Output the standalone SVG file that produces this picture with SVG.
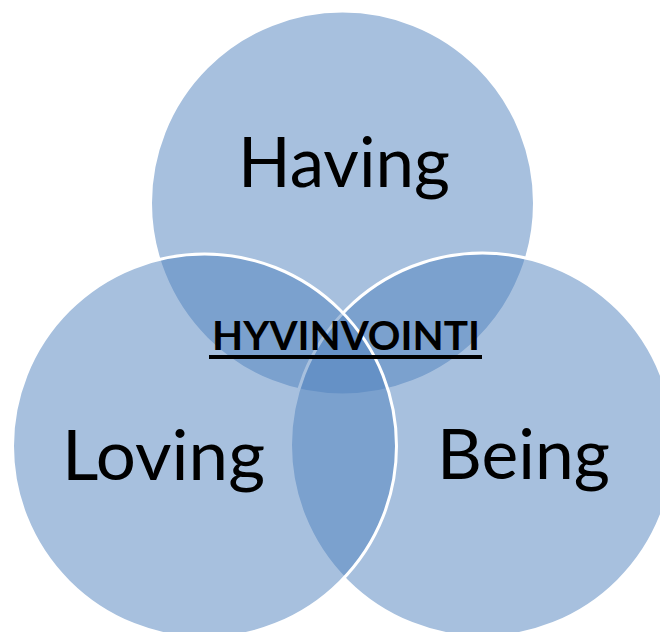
<svg xmlns="http://www.w3.org/2000/svg" width="660" height="632" viewBox="0 0 660 632">
<style>
.c{fill:#4F81BD;fill-opacity:0.5;stroke:#ffffff;stroke-width:3}
.big{font-family:Lato,"Liberation Sans",sans-serif;font-size:70px;fill:#000}
.mid{font-family:Lato,"Liberation Sans",sans-serif;font-size:40px;font-weight:bold;fill:#000}
</style>
<rect width="660" height="632" fill="#ffffff"/>
<g id="having"><circle class="c" cx="342.5" cy="203" r="192"/></g>
<g id="being"><circle class="c" cx="482.5" cy="445" r="192"/></g>
<g id="loving"><circle class="c" cx="204.5" cy="446" r="192"/></g>
<g id="connectors"></g>
<g id="labels">
<text class="big" x="238" y="187" textLength="212" lengthAdjust="spacingAndGlyphs">Having</text>
<text class="big" x="62" y="480" textLength="203" lengthAdjust="spacingAndGlyphs">Loving</text>
<text class="big" x="437" y="479" textLength="173" lengthAdjust="spacingAndGlyphs">Being</text>
<g id="hyvinvointi">
<text class="mid" x="212" y="350" textLength="268" lengthAdjust="spacingAndGlyphs">HYVINVOINTI</text>
<rect x="209" y="355" width="273" height="4" fill="#000"/>
</g>
</g>
</svg>
